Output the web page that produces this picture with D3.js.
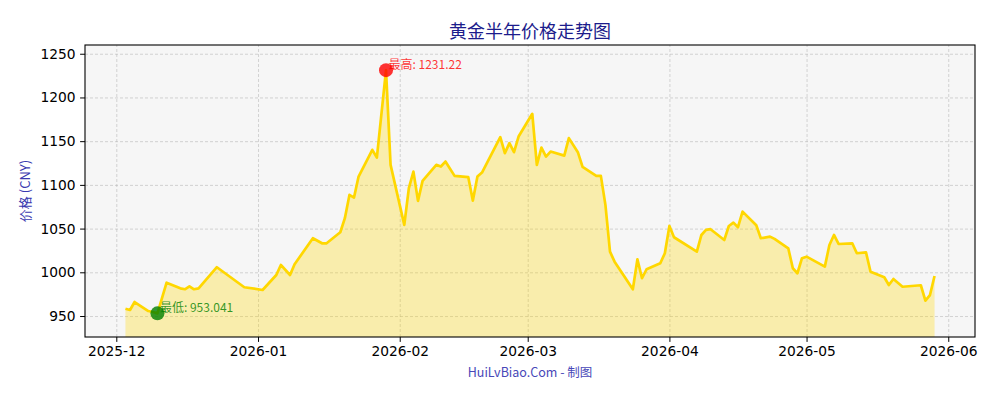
<!DOCTYPE html>
<html>
<head>
<meta charset="utf-8">
<script src="https://cdn.jsdelivr.net/npm/d3@7"></script>
<style>
  body { margin: 0; background: #fff; }
  .tick text { font-family: "DejaVu Sans", sans-serif; font-size: 13.8px; fill: #000; }
  .grid line { stroke: #b0b0b0; stroke-opacity: 0.65; stroke-dasharray: 3,2; stroke-width: 0.8; }
  .grid .domain { display: none; }
</style>
</head>
<body>
<svg id="chart"></svg>
<script>
var dates = [
  "2025-12-03", "2025-12-04", "2025-12-05", "2025-12-08", "2025-12-09", "2025-12-10",
  "2025-12-12", "2025-12-15", "2025-12-16", "2025-12-17", "2025-12-18", "2025-12-19",
  "2025-12-23", "2025-12-29", "2026-01-02", "2026-01-05", "2026-01-06", "2026-01-08",
  "2026-01-09", "2026-01-13", "2026-01-15", "2026-01-16", "2026-01-19", "2026-01-20",
  "2026-01-21", "2026-01-22", "2026-01-23", "2026-01-26", "2026-01-27", "2026-01-29",
  "2026-01-30", "2026-02-02", "2026-02-03", "2026-02-04", "2026-02-05", "2026-02-06",
  "2026-02-09", "2026-02-10", "2026-02-11", "2026-02-13", "2026-02-16", "2026-02-17",
  "2026-02-18", "2026-02-19", "2026-02-23", "2026-02-24", "2026-02-25", "2026-02-26",
  "2026-02-27", "2026-03-02", "2026-03-03", "2026-03-04", "2026-03-05", "2026-03-06",
  "2026-03-09", "2026-03-10", "2026-03-12", "2026-03-13", "2026-03-16", "2026-03-17",
  "2026-03-18", "2026-03-19", "2026-03-20", "2026-03-24", "2026-03-25", "2026-03-26",
  "2026-03-27", "2026-03-30", "2026-03-31", "2026-04-01", "2026-04-02", "2026-04-07",
  "2026-04-08", "2026-04-09", "2026-04-10", "2026-04-13", "2026-04-14", "2026-04-15",
  "2026-04-16", "2026-04-17", "2026-04-20", "2026-04-21", "2026-04-23", "2026-04-24",
  "2026-04-27", "2026-04-28", "2026-04-29", "2026-04-30", "2026-05-01", "2026-05-05",
  "2026-05-06", "2026-05-07", "2026-05-08", "2026-05-11", "2026-05-12", "2026-05-14",
  "2026-05-15", "2026-05-18", "2026-05-19", "2026-05-20", "2026-05-22", "2026-05-26",
  "2026-05-27", "2026-05-28", "2026-05-29"
];

var prices = [
  958.4, 956.9, 966.0, 955.7, 954.6, 953.041,
  988.1, 981.7, 980.6, 984.0, 980.6, 981.7,
  1005.8, 982.9, 979.8, 996.9, 1008.4, 996.9,
  1009.2, 1039.0, 1033.2, 1033.2, 1045.8, 1061.9,
  1088.5, 1085.5, 1109.5, 1140.1, 1131.3, 1231.22,
  1122.9, 1054.2, 1096.2, 1115.2, 1081.7, 1104.6,
  1122.9, 1121.0, 1126.7, 1110.3, 1108.8, 1082.0,
  1109.5, 1114.1, 1154.6, 1136.3, 1147.7, 1137.4,
  1155.3, 1181.3, 1122.9, 1142.7, 1132.4, 1138.1,
  1133.5, 1153.5, 1137.0, 1120.5, 1110.3, 1110.3,
  1077.1, 1023.6, 1012.2, 980.6, 1014.9, 993.2,
  1003.5, 1010.3, 1021.8, 1053.0, 1040.1, 1023.6,
  1042.7, 1048.5, 1049.3, 1037.0, 1053.0, 1056.8,
  1051.6, 1069.4, 1053.9, 1039.0, 1040.8, 1038.2,
  1027.5, 1004.6, 998.9, 1016.1, 1017.9, 1006.5,
  1031.3, 1042.7, 1032.4, 1033.2, 1021.8, 1022.9,
  1000.7, 994.3, 985.5, 992.4, 983.5, 985.2,
  967.5, 974.0, 995.8
];

var yTicks = [950, 1000, 1050, 1100, 1150, 1200, 1250];
var yRange = [926, 1260];

var title = "黄金半年价格走势图";
var yLabel = "价格 (CNY)";
var credit = "HuiLvBiao.Com - 制图";

var width = 1000, height = 400;
var margin = { top: 45, right: 25, bottom: 63, left: 85 };
var innerW = width - margin.left - margin.right;
var innerH = height - margin.top - margin.bottom;

var parse = d3.timeParse("%Y-%m-%d");
var data = dates.map((d, i) => ({ date: parse(d), price: prices[i] }));

var svg = d3.select("#chart")
    .attr("width", width)
    .attr("height", height);

var first = data[0].date, last = data[data.length - 1].date;
var pad = (last - first) * 0.05;

var x = d3.scaleTime()
          .domain([new Date(+first - pad), new Date(+last + pad)])
          .range([0, innerW]);

var y = d3.scaleLinear()
          .domain(yRange)
          .range([innerH, 0]);

var g = svg.append("g")
    .attr("transform", "translate(" + margin.left + "," + margin.top + ")");

g.append("rect")
    .attr("width", innerW)
    .attr("height", innerH)
    .attr("fill", "#f6f6f6");

var monthTicks = d3.timeMonth.every(1);

// grid first, the fill sits on top of it
g.append("g")
    .classed("grid", true)
    .attr("transform", "translate(0," + innerH + ")")
    .call(d3.axisBottom(x).ticks(monthTicks).tickSize(-innerH).tickFormat(""));

g.append("g")
    .classed("grid", true)
    .call(d3.axisLeft(y).tickValues(yTicks).tickSize(-innerW).tickFormat(""));

var area = d3.area()
             .x(d => x(d.date))
             .y0(innerH)
             .y1(d => y(d.price));

var line = d3.line()
             .x(d => x(d.date))
             .y(d => y(d.price));

g.append("path")
    .datum(data)
    .attr("d", area)
    .attr("fill", "#ffd700")
    .attr("fill-opacity", 0.3);

g.append("path")
    .datum(data)
    .attr("d", line)
    .attr("fill", "none")
    .attr("stroke", "#ffd700")
    .attr("stroke-width", 2.7)
    .attr("stroke-linejoin", "round");

var hi = data.reduce((a, b) => b.price > a.price ? b : a);
var lo = data.reduce((a, b) => b.price < a.price ? b : a);

[[hi, "red", "最高: "], [lo, "green", "最低: "]].forEach(m => {
  var p = m[0];
  g.append("circle")
      .attr("cx", x(p.date))
      .attr("cy", y(p.price))
      .attr("r", 7)
      .attr("fill", m[1])
      .attr("fill-opacity", 0.8);
  g.append("text")
      .attr("x", x(p.date) + 2.5)
      .attr("y", y(p.price) - 1)
      .attr("fill", m[1])
      .attr("fill-opacity", 0.8)
      .style("font-family", "'Noto Sans CJK SC', sans-serif")
      .style("font-size", "12px")
      .text(m[2] + p.price);
});

// frame
g.append("rect")
    .attr("width", innerW)
    .attr("height", innerH)
    .attr("fill", "none")
    .attr("stroke", "#000")
    .attr("stroke-width", 1.1);

g.append("g")
    .attr("transform", "translate(0," + innerH + ")")
    .call(d3.axisBottom(x).ticks(monthTicks).tickFormat(d3.timeFormat("%Y-%m")).tickSizeOuter(0).tickSize(4.9).tickPadding(4))
    .call(a => a.select(".domain").remove());

g.append("g")
    .call(d3.axisLeft(y).tickValues(yTicks).tickFormat(d3.format("d")).tickSizeOuter(0).tickSize(4.9).tickPadding(4.5))
    .call(a => a.select(".domain").remove());

svg.append("text")
    .attr("x", margin.left + innerW / 2)
    .attr("y", 38)
    .attr("fill", "#1c1c8c")
    .style("font-family", "'Noto Sans CJK SC', sans-serif")
    .style("font-size", "18px")
    .style("text-anchor", "middle")
    .text(title);

svg.append("text")
    .attr("transform", "translate(30," + (margin.top + innerH / 2) + ") rotate(-90)")
    .attr("fill", "#3a3ab0")
    .style("font-family", "'Noto Sans CJK SC', sans-serif")
    .style("font-size", "13px")
    .style("text-anchor", "middle")
    .text(yLabel);

svg.append("text")
    .attr("x", margin.left + innerW / 2)
    .attr("y", 377)
    .attr("fill", "#4848b8")
    .style("font-family", "'Noto Sans CJK SC', sans-serif")
    .style("font-size", "12.5px")
    .style("text-anchor", "middle")
    .text(credit);
</script>
</body>
</html>
